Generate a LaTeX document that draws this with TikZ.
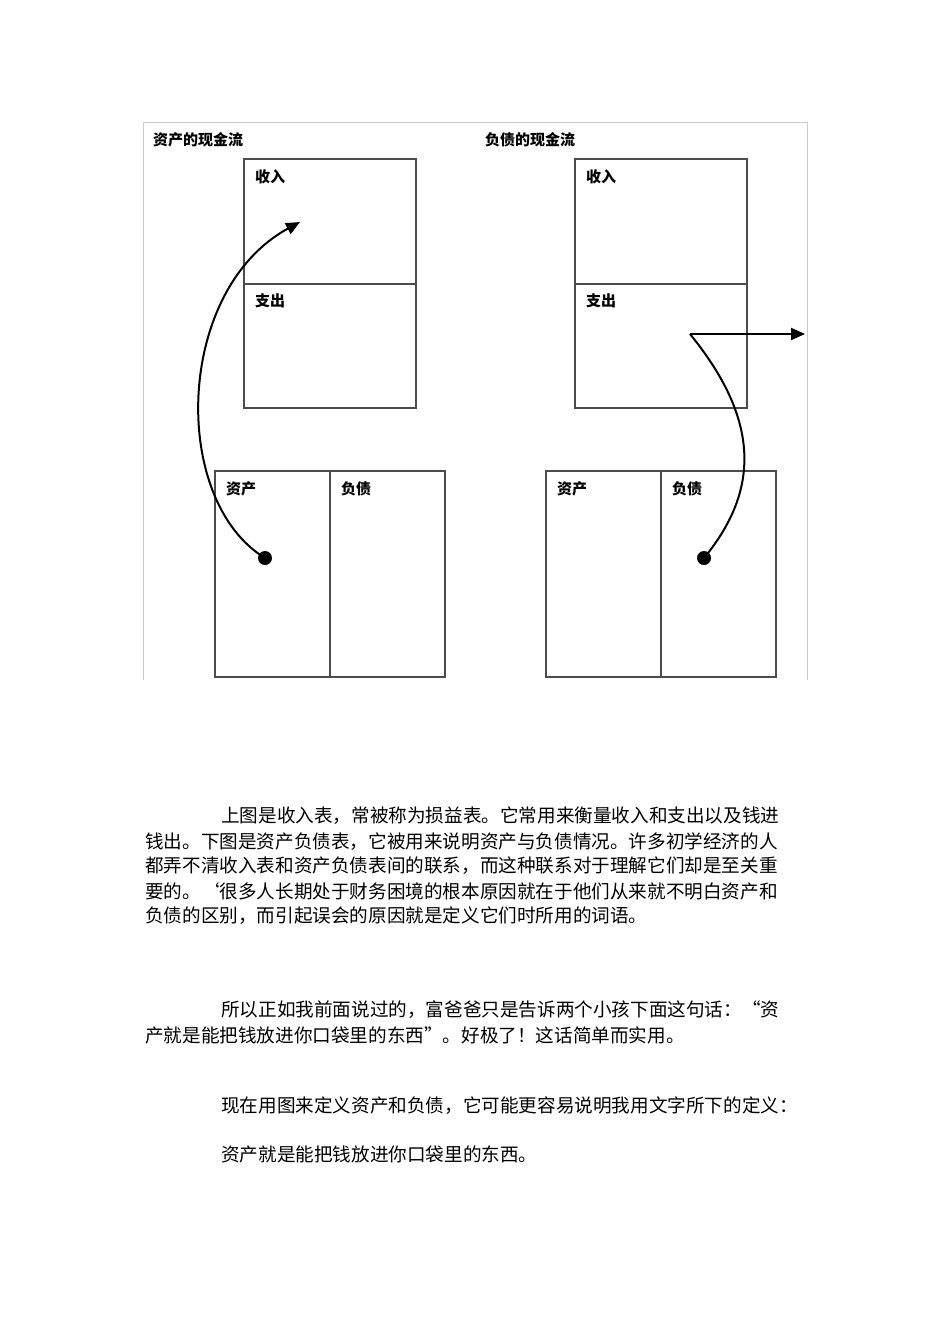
\documentclass[tikz,border=0pt]{standalone}
\usepackage{fontspec}
\setmainfont{Noto Sans CJK SC}
\newfontfamily\cjkb[BoldFont={Noto Sans CJK SC Bold}]{Noto Sans CJK SC}
\usetikzlibrary{arrows.meta}
\begin{document}
\begin{tikzpicture}[x=1pt,y=-1pt,
  box/.style={draw=black!70,line width=1.2pt},
  lab/.style={anchor=west,inner sep=0pt,font=\fontsize{15}{15}\selectfont\bfseries},
  para/.style={anchor=west,inner sep=0pt,font=\fontsize{18.6}{18.6}\selectfont},
  flow/.style={line width=2pt,-{Triangle[length=14pt,width=12pt]}}]
\useasboundingbox (0,0) rectangle (950,1344);
\draw[black!20,line width=1pt] (143,680) -- (143,122) -- (807,122) -- (807,680);
\node[lab] (t1) at (153,140) {资产的现金流};
\node[lab] (t2) at (485,140) {负债的现金流};
% left
\draw[box] (244,159) rectangle (416,408); \draw[box] (244,284) -- (416,284);
\draw[box] (215,471) rectangle (445,677); \draw[box] (330,471) -- (330,677);
\node[lab] (l1) at (255,177) {收入};
\node[lab] (l2) at (255,301) {支出};
\node[lab] (l3) at (226,489) {资产};
\node[lab] (l4) at (341,489) {负债};
\fill (265,558) circle (7) coordinate (d1);
\coordinate (a1) at (300,222);
\draw[flow] (d1) .. controls (170,500) and (175,290) .. (a1);
% right
\draw[box] (575,159) rectangle (747,408); \draw[box] (575,284) -- (747,284);
\draw[box] (546,471) rectangle (776,677); \draw[box] (661,471) -- (661,677);
\node[lab] (r1) at (586,177) {收入};
\node[lab] (r2) at (586,301) {支出};
\node[lab] (r3) at (557,489) {资产};
\node[lab] (r4) at (672,489) {负债};
\fill (704,558) circle (7) coordinate (d2);
\coordinate (k) at (690,334);
\coordinate (a2) at (805,334);
\draw[line width=2pt] (d2) .. controls (760,490) and (760,420) .. (k);
\draw[flow] (k) -- (a2);
% text
\node[para] (p1) at (221,816) {上图是收入表，常被称为损益表。它常用来衡量收入和支出以及钱进};
\node[para] (p2) at (145,842) {钱出。下图是资产负债表，它被用来说明资产与负债情况。许多初学经济的人};
\node[para] (p3) at (145,866) {都弄不清收入表和资产负债表间的联系，而这种联系对于理解它们却是至关重};
\node[para] (p4) at (145,891) {要的。‘很多人长期处于财务困境的根本原因就在于他们从来就不明白资产和};
\node[para] (p5) at (145,916) {负债的区别，而引起误会的原因就是定义它们时所用的词语。};
\node[para] (q1) at (221,1010) {所以正如我前面说过的，富爸爸只是告诉两个小孩下面这句话：“资};
\node[para] (q2) at (145,1035) {产就是能把钱放进你口袋里的东西”。好极了！这话简单而实用。};
\node[para] (s1) at (221,1106) {现在用图来定义资产和负债，它可能更容易说明我用文字所下的定义：};
\node[para] (s2) at (221,1154) {资产就是能把钱放进你口袋里的东西。};
\end{tikzpicture}
\end{document}
